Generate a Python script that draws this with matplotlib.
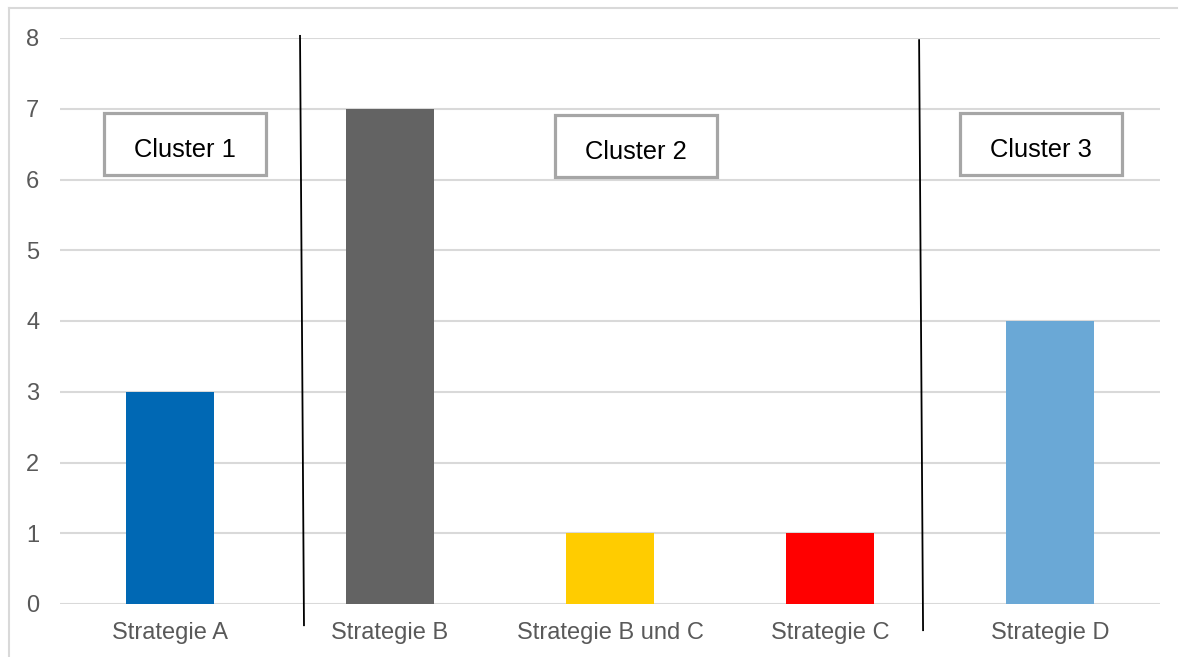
import matplotlib
matplotlib.use("Agg")
import matplotlib.pyplot as plt
from matplotlib.patches import Rectangle
from matplotlib.lines import Line2D

categories = ["Strategie A", "Strategie B", "Strategie B und C", "Strategie C", "Strategie D"]
values = [3, 7, 1, 1, 4]
colors = ["#0068B4", "#636363", "#FFCC00", "#FF0000", "#6AA8D6"]
y_ticks = [0, 1, 2, 3, 4, 5, 6, 7, 8]
cluster_labels = ["Cluster 1", "Cluster 2", "Cluster 3"]
cluster_pos = [(0.068, 6.50), (2.118, 6.47), (3.959, 6.50)]
separators = [((0.591, 0.609), (8.03, -0.30)), ((3.405, 3.423), (7.97, -0.37))]

plt.rcParams['font.family'] = ['Liberation Sans', 'DejaVu Sans']

W, H = 1183, 657
fig = plt.figure(figsize=(W / 100, H / 100), dpi=100)
ax = fig.add_axes([60 / W, 1 - 604 / H, 1100 / W, (604 - 38) / H])

x = list(range(len(categories)))
ax.bar(x, values, width=0.4, color=colors, zorder=3)
ax.set_xlim(-0.5, len(categories) - 0.5)
ax.set_ylim(0, 8)
ax.set_yticks(y_ticks)
ax.set_xticks(x)
ax.set_xticklabels(categories)
ax.grid(axis='y', color='#D9D9D9', linewidth=1.5, zorder=0)
ax.tick_params(axis='both', length=0, labelsize=17, labelcolor='#595959')
ax.tick_params(axis='y', pad=15)
ax.tick_params(axis='x', pad=13)
for s in ax.spines.values():
    s.set_visible(False)

bw, bh = 0.736, 0.876
for lbl, (cx, cy) in zip(cluster_labels, cluster_pos):
    ax.add_patch(Rectangle((cx - bw / 2, cy - bh / 2), bw, bh, facecolor='white',
                           edgecolor='#A6A6A6', linewidth=2.3, zorder=5))
    ax.text(cx, cy - 0.08, lbl, ha='center', va='center', fontsize=18.4, color='black', zorder=6)

for xs, ys in separators:
    ax.plot(xs, ys, color='black', linewidth=1.3, clip_on=False, zorder=6)

# outer frame (left and top edges visible)
fig.add_artist(Line2D([9 / W, 9 / W], [0, 1 - 8 / H], color='#D9D9D9', linewidth=1.5))
fig.add_artist(Line2D([9 / W, 1177 / W], [1 - 8 / H, 1 - 8 / H], color='#D9D9D9', linewidth=1.5))

fig.savefig("out.png", dpi=100)
